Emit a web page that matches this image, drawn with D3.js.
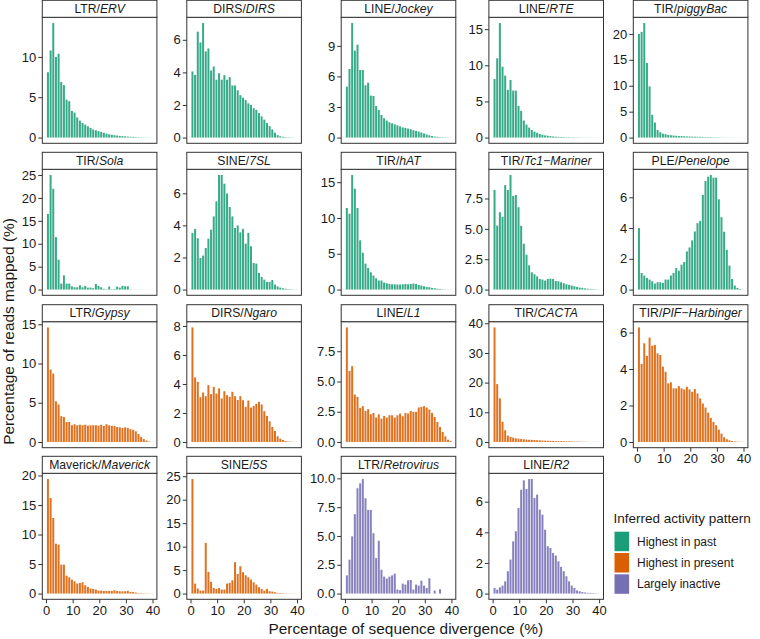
<!DOCTYPE html>
<html>
<head>
<meta charset="utf-8">
<script src="https://cdn.jsdelivr.net/npm/d3@7"></script>
<style>
  body { margin: 0; background: #fff; }
  svg { display: block; font-family: "Liberation Sans", Arial, Helvetica, sans-serif; }
</style>
</head>
<body>
<svg id="chart" width="760" height="639"></svg>
<script>
// ---------------- DATA ----------------
// divergence bins (%), one bar per bin
const divergenceBins = [0,1,2,3,4,5,6,7,8,9,10,11,12,13,14,15,16,17,18,19,20,21,22,23,24,25,26,27,28,29,30,31,32,33,34,35,36,37,38,39];
const xTickValues = [0, 10, 20, 30, 40];

const panelOrders = ["LTR","DIRS","LINE","LINE","TIR","TIR","SINE","TIR","TIR","PLE","LTR","DIRS","LINE","TIR","TIR","Maverick","SINE","LTR","LINE"];
const panelNames  = ["ERV","DIRS","Jockey","RTE","piggyBac","Sola","7SL","hAT","Tc1\u2212Mariner","Penelope","Gypsy","Ngaro","L1","CACTA","PIF\u2212Harbinger","Maverick","5S","Retrovirus","R2"];
const panelGroups = ["past","past","past","past","past","past","past","past","past","past","present","present","present","present","present","present","present","inactive","inactive"];

const groupKeys   = ["past","present","inactive"];
const groupLabels = ["Highest in past","Highest in present","Largely inactive"];
const groupColors = ["#1B9E77","#D95F02","#7570B3"];

// percentage of reads mapped per bin
const ltrERV = [8.1,10.8,14.2,10.0,10.4,6.9,6.5,4.7,4.5,3.3,3.1,2.5,2.1,1.8,1.6,1.4,1.2,1.0,0.9,0.8,0.7,0.6,0.5,0.4,0.35,0.3,0.25,0.2,0.18,0.15,0.12,0.1,0.08,0.06,0.05,0.04,0.03,0.02,0.02,0.01];
const dirsDIRS = [4.06,3.85,6.5,5.84,7.03,5.29,5.47,4.12,4.36,3.55,3.95,3.55,3.83,3.55,3.71,3.2,3.2,2.9,2.6,2.45,2.3,2.1,2.0,1.8,1.7,1.5,1.3,1.1,0.9,0.7,0.5,0.3,0.15,0.08,0.05,0.03,0.02,0.01,0.01,0.0];
const lineJockey = [5.0,6.73,11.24,8.53,9.12,6.63,6.63,5.13,5.39,4.12,4.08,3.1,2.71,2.22,1.9,1.67,1.5,1.4,1.3,1.2,1.1,1.0,0.95,0.88,0.82,0.72,0.65,0.59,0.49,0.4,0.3,0.22,0.15,0.1,0.08,0.05,0.04,0.03,0.02,0.01];
const lineRTE = [8.1,10.97,15.85,9.8,8.57,6.6,7.97,6.5,6.5,4.38,3.69,2.35,1.8,1.38,1.06,0.83,0.65,0.5,0.4,0.3,0.25,0.2,0.15,0.12,0.1,0.08,0.07,0.06,0.05,0.04,0.04,0.03,0.03,0.02,0.02,0.02,0.01,0.01,0.01,0.01];
const tirPiggyBac = [20.0,20.4,22.1,14.4,9.87,4.39,2.9,1.48,1.03,0.77,0.65,0.52,0.45,0.4,0.35,0.3,0.28,0.25,0.22,0.2,0.18,0.17,0.15,0.14,0.12,0.1,0.09,0.08,0.07,0.06,0.05,0.04,0.03,0.02,0.02,0.01,0.01,0.01,0.01,0.01];
const tirSola = [16.5,25.0,22.0,11.45,6.52,1.3,3.1,1.3,1.3,0.72,0.5,0.5,0.94,0.5,0.8,0.43,0.43,0.3,1.23,0.8,0.5,0.15,0.08,0.65,0.08,0.15,0.65,0.43,0.8,0.72,0.72,0.05,0.02,0.02,0.02,0.01,0.01,0.01,0.01,0.01];
const sine7SL = [3.53,3.78,3.2,1.97,2.12,2.59,3.17,3.73,4.56,5.5,7.14,7.14,6.6,5.98,5.15,4.56,3.84,4.0,3.57,3.78,2.86,3.53,2.7,1.66,1.62,1.04,0.79,0.62,0.48,0.48,0.6,0.31,0.2,0.12,0.08,0.05,0.03,0.02,0.01,0.01];
const tirHAT = [11.4,10.6,16.0,14.1,11.4,6.88,5.16,3.63,3.02,2.42,1.95,1.58,1.26,1.26,0.98,0.88,0.79,0.74,0.74,0.7,0.7,0.74,0.79,0.74,0.79,0.84,0.79,0.65,0.56,0.47,0.37,0.33,0.23,0.19,0.12,0.08,0.05,0.03,0.02,0.01];
const tirTc1Mariner = [8.2,5.27,6.37,5.98,8.6,8.2,9.43,7.7,7.79,6.78,5.25,3.77,2.87,2.0,1.42,1.26,1.09,0.87,0.82,0.74,0.87,0.9,0.87,0.71,0.68,0.6,0.52,0.44,0.38,0.33,0.27,0.22,0.16,0.14,0.1,0.07,0.05,0.03,0.02,0.01];
const plePenelope = [4.0,1.08,0.91,0.76,0.65,0.54,0.39,0.48,0.48,0.43,0.65,0.65,0.91,1.08,1.4,1.23,1.62,1.79,2.48,2.74,3.2,3.78,4.32,4.47,6.16,7.06,7.34,7.45,7.28,7.28,5.87,4.71,3.76,2.59,1.56,0.69,0.26,0.11,0.03,0.01];
const ltrGypsy = [14.6,9.23,8.72,5.19,4.77,3.28,3.19,2.55,2.55,2.13,2.26,2.13,2.2,2.13,2.2,2.08,2.13,2.13,2.13,2.08,2.2,2.04,2.26,2.13,2.04,2.04,1.91,1.87,1.79,1.87,1.79,1.62,1.57,1.36,1.02,0.64,0.38,0.17,0.06,0.02];
const dirsNgaro = [7.9,4.45,4.15,3.09,3.41,3.16,3.92,3.3,3.8,3.34,3.69,3.0,3.5,3.23,3.11,3.46,3.16,2.9,3.16,2.88,2.42,2.86,2.37,2.49,2.63,2.77,2.58,2.12,1.8,1.43,1.04,0.76,0.39,0.23,0.14,0.07,0.03,0.02,0.01,0.01];
const lineL1 = [9.47,5.88,6.27,3.92,3.73,2.82,2.96,2.57,2.71,2.29,2.4,2.02,2.29,1.93,2.15,2.02,2.21,2.21,2.02,2.21,2.35,2.13,2.4,2.35,2.57,2.49,2.49,2.85,2.9,2.96,2.85,2.68,2.4,2.07,1.66,1.24,0.83,0.47,0.19,0.08];
const tirCACTA = [38.6,19.5,14.7,6.78,3.95,2.15,1.7,1.47,1.24,1.13,1.0,0.9,0.8,0.75,0.7,0.65,0.6,0.55,0.5,0.45,0.42,0.38,0.35,0.32,0.3,0.27,0.25,0.22,0.2,0.18,0.15,0.13,0.11,0.1,0.08,0.06,0.05,0.04,0.03,0.02];
const tirPIFHarbinger = [6.28,4.28,5.41,4.72,5.72,5.28,5.32,4.86,4.77,4.13,3.85,3.21,3.27,2.94,2.94,3.06,2.94,2.88,3.03,2.88,2.75,2.9,2.66,2.39,2.11,1.89,1.61,1.32,1.1,0.92,0.68,0.46,0.26,0.15,0.09,0.05,0.03,0.02,0.01,0.01];
const maverick = [19.4,16.2,12.8,8.45,8.28,4.9,4.9,3.04,2.76,2.37,2.08,1.69,1.8,1.92,1.41,1.13,0.85,0.79,0.68,0.51,0.51,0.45,0.45,0.45,0.45,0.56,0.45,0.39,0.39,0.39,0.45,0.28,0.28,0.17,0.1,0.08,0.05,0.04,0.03,0.02];
const sine5S = [24.4,2.13,1.07,0.64,0.64,10.8,4.62,2.49,1.21,0.99,1.21,0.85,0.85,2.13,2.27,2.84,6.68,4.19,5.82,4.55,3.91,3.48,2.98,2.41,1.92,1.35,0.99,0.64,0.99,0.5,0.43,0.28,0.15,0.12,0.08,0.05,0.04,0.03,0.02,0.01];
const ltrRetrovirus = [1.58,2.94,4.96,6.89,9.14,9.57,9.94,8.27,7.26,7.26,5.24,3.08,4.58,2.07,1.47,1.3,1.47,1.58,1.73,0.35,0.29,0.86,0.78,1.15,1.18,0.35,0.78,0.69,1.12,0.69,0.49,1.33,0,0.26,0,0.37,0,0,0,0];
const lineR2 = [0.37,0.26,0.41,0.52,0.8,1.46,2.22,3.41,4.07,5.59,6.78,7.39,6.83,7.48,7.48,6.24,6.46,5.48,5.15,4.17,3.09,2.98,2.65,2.48,2.11,1.74,1.46,1.13,0.8,0.52,0.37,0.2,0.15,0.1,0.07,0.05,0.04,0.03,0.02,0.01];

const panelValues = [ltrERV, dirsDIRS, lineJockey, lineRTE, tirPiggyBac, tirSola, sine7SL, tirHAT, tirTc1Mariner, plePenelope,
                     ltrGypsy, dirsNgaro, lineL1, tirCACTA, tirPIFHarbinger, maverick, sine5S, ltrRetrovirus, lineR2];

// y tick labels per panel
const panelYTicks = [
  ["0","5","10"], ["0","2","4","6"], ["0","3","6","9"], ["0","5","10","15"], ["0","5","10","15","20"],
  ["0","5","10","15","20","25"], ["0","2","4","6"], ["0","5","10","15"], ["0.0","2.5","5.0","7.5"], ["0","2","4","6"],
  ["0","5","10","15"], ["0","2","4","6","8"], ["0.0","2.5","5.0","7.5"], ["0","10","20","30","40"], ["0","2","4","6"],
  ["0","5","10","15","20"], ["0","5","10","15","20","25"], ["0.0","2.5","5.0","7.5","10.0"], ["0","2","4","6"]
];

// ---------------- LAYOUT ----------------
const colLeft = [42.3, 186.8, 341.2, 488.9, 633.3];
const rowTop  = [17.3, 169.3, 321.7, 473.3];
const PW = 114.6, PH = 126, STRIP = 17;
const TXT = "#1a1a1a", LINE = "#333333";
const TICK_FONT = 13;

const svg = d3.select("#chart");
const color = d3.scaleOrdinal().domain(groupKeys).range(groupColors);
const x = d3.scaleLinear().domain([-1.4, 41.65]).range([0, PW]);
const barCenter = 0.72, barWidth = 0.75;

panelValues.forEach((vals, i) => {
  const row = Math.floor(i / 5), col = i % 5;
  const g = svg.append("g").attr("transform", `translate(${colLeft[col]},${rowTop[row]})`);
  const maxV = d3.max(vals);
  const y = d3.scaleLinear().domain([-0.05 * maxV, 1.05 * maxV]).range([PH, 0]);

  g.append("rect").attr("width", PW).attr("height", PH).attr("fill", "#fff");

  const data = divergenceBins.map((b, k) => ({ b, v: vals[k] }));
  g.selectAll("rect.bar").data(data).enter().append("rect")
    .attr("class", "bar")
    .attr("x", d => x(d.b + barCenter - barWidth / 2))
    .attr("width", x(barWidth) - x(0))
    .attr("y", d => y(d.v))
    .attr("height", d => Math.max(0, y(0) - y(d.v)))
    .attr("fill", color(panelGroups[i]))
    .attr("fill-opacity", 0.88);

  g.append("rect").attr("width", PW).attr("height", PH)
    .attr("fill", "none").attr("stroke", LINE).attr("stroke-width", 1);

  const strip = g.append("g").attr("transform", `translate(0,${-STRIP})`);
  strip.append("rect").attr("width", PW).attr("height", STRIP)
    .attr("fill", "#fff").attr("stroke", LINE).attr("stroke-width", 1);
  const st = strip.append("text").attr("x", PW / 2).attr("y", STRIP / 2 + 4.2)
    .attr("text-anchor", "middle").attr("font-size", 12.2).attr("fill", TXT);
  st.append("tspan").text(panelOrders[i] + "/");
  st.append("tspan").attr("font-style", "italic").text(panelNames[i]);

  const ticks = panelYTicks[i];
  const yAxis = d3.axisLeft(y).tickValues(ticks.map(Number))
    .tickFormat((d, k) => ticks[k]).tickSize(4).tickPadding(2);
  const ya = g.append("g").call(yAxis);
  ya.select(".domain").remove();
  ya.selectAll(".tick line").attr("stroke", LINE);
  ya.selectAll(".tick text").attr("font-size", TICK_FONT).attr("fill", TXT)
    .attr("font-family", "'Liberation Sans', Arial, sans-serif");

  if (i >= 14) {
    const xAxis = d3.axisBottom(x).tickValues(xTickValues).tickSize(4).tickPadding(2);
    const xa = g.append("g").attr("transform", `translate(0,${PH})`).call(xAxis);
    xa.select(".domain").remove();
    xa.selectAll(".tick line").attr("stroke", LINE);
    xa.selectAll(".tick text").attr("font-size", TICK_FONT).attr("fill", TXT)
      .attr("font-family", "'Liberation Sans', Arial, sans-serif");
  }
});

// axis titles
svg.append("text")
  .attr("transform", "translate(14.3,331.5) rotate(-90)")
  .attr("text-anchor", "middle").attr("font-size", 15.4).attr("fill", TXT)
  .text("Percentage of reads mapped (%)");

svg.append("text")
  .attr("x", 405.8).attr("y", 634.3)
  .attr("text-anchor", "middle").attr("font-size", 15.4).attr("fill", TXT)
  .text("Percentage of sequence divergence (%)");

// legend
const legend = svg.append("g").attr("transform", "translate(613.5,523)");
legend.append("text").attr("x", 0).attr("y", 0).attr("font-size", 13.5).attr("fill", TXT)
  .text("Inferred activity pattern");
groupKeys.forEach((k, j) => {
  legend.append("rect").attr("x", 1).attr("y", 8.7 + j * 21.3).attr("width", 14.6).attr("height", 19.5)
    .attr("fill", color(k));
  legend.append("text").attr("x", 23.5).attr("y", 8.7 + j * 21.3 + 9.75 + 4.3)
    .attr("font-size", 12).attr("fill", TXT).text(groupLabels[j]);
});
</script>
</body>
</html>
